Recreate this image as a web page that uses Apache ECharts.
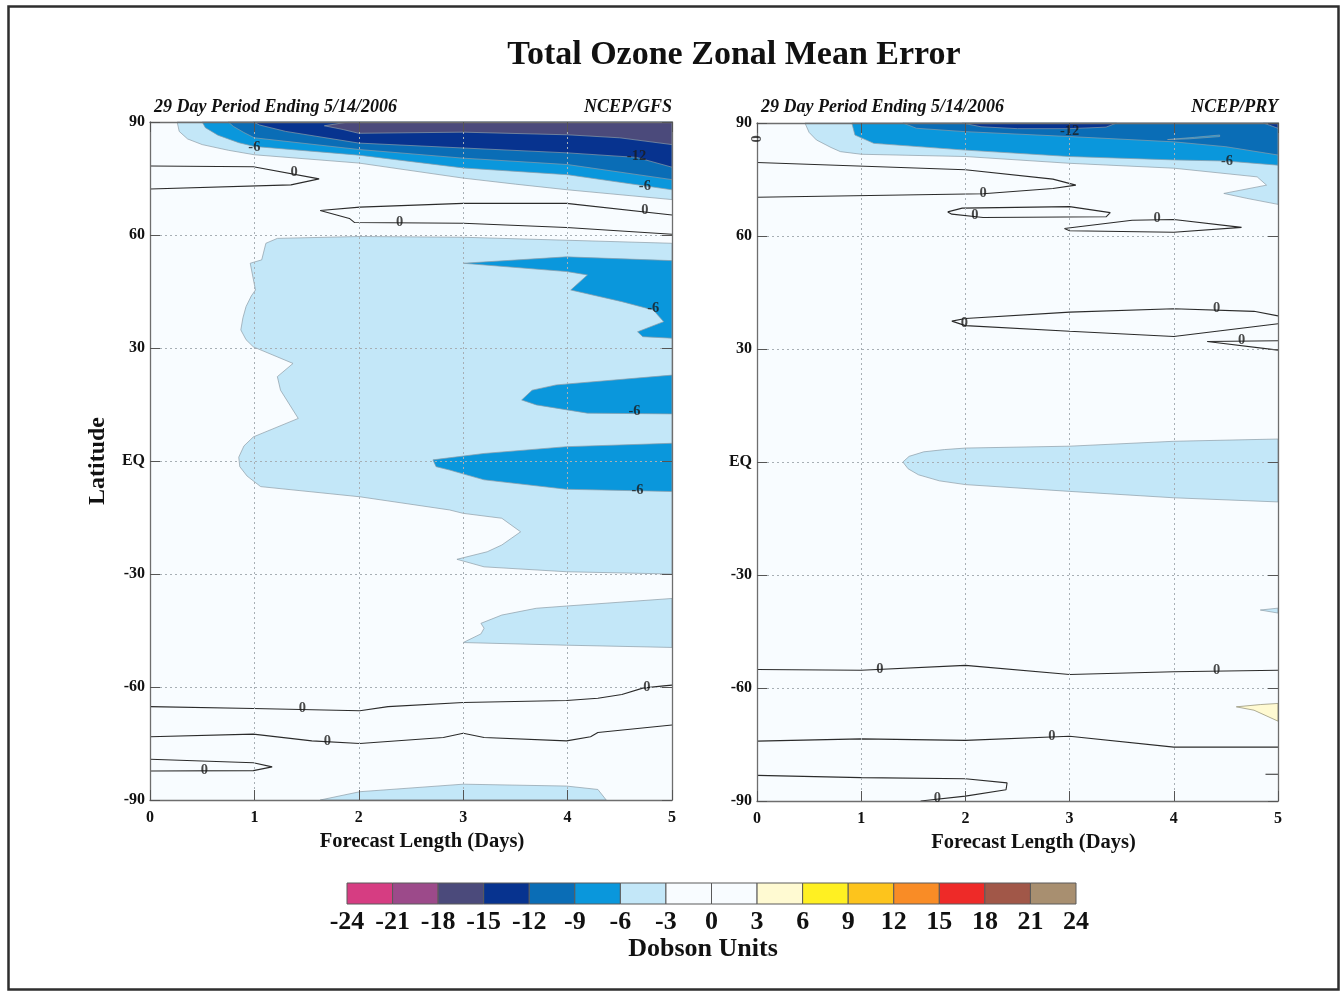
<!DOCTYPE html>
<html>
<head>
<meta charset="utf-8">
<script src="https://cdn.jsdelivr.net/npm/echarts@6/dist/echarts.min.js"></script>
<style>
html,body{margin:0;padding:0;background:#ffffff;}
#chart{width:1341px;height:993px;}
</style>
</head>
<body>
<div id="chart"></div>
<script>
// ---- axes ----
const dayTicks = [0, 1, 2, 3, 4, 5];
const latTicks = [-90, -60, -30, 0, 30, 60, 90];
const latTickNames = ['-90', '-60', '-30', 'EQ', '30', '60', '90'];

// ---- colour scale (Dobson Units) ----
const duBounds = [-24, -21, -18, -15, -12, -9, -6, -3, 0, 3, 6, 9, 12, 15, 18, 21, 24];
const duColors = ['#d63d82', '#9c4a8a', '#4b4a7b', '#07338f', '#0a6db6', '#0a97dc', '#c3e7f8', '#f8fcff',
                  '#f8fcff', '#fffad2', '#fff022', '#fdc41c', '#f98c26', '#ee2a28', '#a15748', '#a88f70'];

// ---- NCEP/GFS : filled regions [day, latitude] ----
const gfsNorthLe3 = [[0.26,90],[0.28,87.5],[0.36,85.5],[0.5,84.0],[0.75,82.5],[1.0,81.3],[2.0,79.1],[3.0,75.1],[3.5,73.5],[4.0,72.0],[5,69.4],[5,90]];
const gfsNorthLe6 = [[0.50,90],[0.53,88.5],[0.65,86.5],[0.85,84.5],[1.0,83.5],[2.0,81.2],[3.0,77.8],[4.0,76.0],[5,72.0],[5,90]];
const gfsNorthLe9 = [[0.75,90],[0.8,88.8],[0.9,87.2],[1.0,85.8],[2.0,82.7],[3.0,80.4],[4.0,78.7],[5,74.7],[5,90]];
const gfsNorthLe12 = [[0.99,90],[5,90],[5,78.0],[4.66,80.6],[4.0,81.8],[3.0,83.1],[2.0,84.4],[1.3,87.5],[1.05,89.2]];
const gfsNorthLe15 = [[1.67,89.0],[1.9,90],[5,90],[5,84.0],[4.5,85.8],[4.0,86.6],[3.0,87.3],[2.0,87.0],[1.85,88.0]];
const gfsMidLe3 = [[5,57.8],[3.0,59.4],[2.01,59.6],[1.22,59.1],[1.11,57.8],[1.07,53.4],[0.96,52.5],[1.01,45.4],
  [0.97,43.8],[0.92,41.0],[0.89,38.0],[0.87,34.8],[0.92,32.2],[0.99,30.3],[1.37,25.9],[1.22,22.4],[1.25,18.8],
  [1.42,11.3],[0.99,6.4],[0.9,4.0],[0.85,1.0],[0.86,-1.5],[0.93,-4.0],[1.06,-6.8],[2.01,-9.5],[2.87,-13.0],
  [3.0,-13.9],[3.37,-15.2],[3.55,-18.8],[3.37,-22.3],[3.23,-24.1],[2.94,-26.1],[3.2,-28.1],[3.99,-29.4],[5,-30.0]];
const gfsMidLe6a = [[3.0,52.5],[3.99,54.2],[5,53.2],[5,32.6],[4.72,33.0],[4.67,34.3],[4.92,37.0],[4.82,40.1],[4.52,42.3],[4.03,45.4],[4.19,49.4],[3.99,50.3]];
const gfsMidLe6b = [[3.56,16.2],[3.66,18.8],[3.89,20.2],[5,22.8],[5,12.5],[4.19,12.7],[3.70,14.9]];
const gfsMidLe6c = [[2.71,0.3],[3.2,2.0],[3.99,3.8],[5,4.7],[5,-8.1],[3.99,-7.5],[3.2,-5.0],[2.87,-2.4],[2.74,-1.5]];
const gfsSouthLe3a = [[3.0,-48.2],[3.17,-45.9],[3.2,-44.4],[3.17,-43.1],[3.37,-40.9],[3.7,-39.1],[3.99,-38.5],[5,-36.5],[5,-49.5],[3.99,-48.9]];
const gfsSouthLe3b = [[1.63,-90],[2.01,-87.8],[3.0,-85.8],[3.99,-86.3],[4.29,-87.2],[4.37,-90]];

// ---- NCEP/GFS : zero contours ----
const gfsZeroA = [[0,78.3],[0.99,78.1],[1.62,74.9],[1.35,73.3],[0,72.2]];
const gfsZeroB = [[5,65.3],[3.99,68.4],[3.0,68.4],[2.01,67.4],[1.63,66.5],[1.91,64.4],[1.96,63.3],[3.0,63.1],[3.99,62.0],[5,60.2]];
const gfsZeroC = [[0,-65.2],[0.99,-65.7],[2.01,-66.3],[2.28,-65.2],[3.0,-64.1],[3.99,-63.6],[4.29,-63.0],[4.52,-62.0],[4.72,-60.3],[4.92,-59.7],[5,-59.5]];
const gfsZeroD = [[0,-73.2],[0.99,-72.5],[1.55,-74.3],[2.01,-75.0],[2.81,-73.4],[3.0,-72.3],[3.2,-73.4],[3.99,-74.3],[4.22,-73.2],[4.29,-72.1],[5,-70.1]];
const gfsZeroE = [[0,-79.2],[0.99,-80.1],[1.17,-81.2],[0.99,-82.2],[0,-82.3]];

// ---- NCEP/GFS : contour labels [day, latitude, text] ----
const gfsLabels = [[1.0,83.4,'-6'],[4.66,81.0,'-12'],[4.74,73.0,'-6'],[4.74,66.6,'0'],[2.39,63.4,'0'],[1.38,76.7,'0'],
  [4.82,40.6,'-6'],[4.64,13.3,'-6'],[4.67,-7.7,'-6'],[1.46,-65.6,'0'],[4.76,-60.0,'0'],[1.70,-74.4,'0'],[0.52,-82.0,'0']];

// ---- NCEP/PRY : filled regions ----
const pryNorthLe3 = [[0.46,90],[0.50,87.5],[0.57,85.5],[0.71,83.5],[0.8,82.4],[1,81.7],[2,81.1],[3,79.3],[4,78.0],[4.80,75.7],[4.89,73.5],[4.48,71.3],[4.70,70.0],[5,68.4],[5,90]];
const pryNorthLe6 = [[0.91,90],[0.94,86.8],[1.12,84.6],[2,82.8],[3,81.1],[4,80.2],[4.5,79.9],[5,78.8],[5,90]];
const pryNorthLe9 = [[1.40,90],[1.53,88.6],[2,87.7],[3,86.4],[4,85.0],[4.5,83.7],[5,81.5],[5,90]];
const pryStreakLe6 = [[3.94,85.6],[4.2,86.2],[4.44,86.8],[4.44,86.4],[4.15,85.8]];
const pryNorthLe12a = [[1.97,90],[3.45,90],[3.35,88.9],[3.0,88.5],[2.5,88.5],[2.15,89.0]];
const pryNorthLe12b = [[4.86,90],[5,90],[5,88.6],[4.92,89.4]];
const pryEqLe3 = [[1.40,0],[1.46,1.5],[1.6,2.7],[1.8,3.3],[2,3.7],[3,4.2],[4,5.5],[5,6.1],[5,-10.6],[4,-9.5],[3,-7.8],[2,-6.0],[1.75,-5.0],[1.55,-3.4],[1.45,-1.8]];
const prySouthLe3 = [[4.83,-39.3],[5,-38.8],[5,-40.1]];
const prySouthGe3 = [[4.60,-65.0],[4.83,-64.4],[5,-64.1],[5,-68.8],[4.77,-65.9]];

// ---- NCEP/PRY : zero contours ----
const pryZeroF = [[0,79.5],[2.0,77.6],[2.84,75.1],[3.06,73.5],[2.84,72.6],[2.17,71.2],[0,70.3]];
const pryZeroG = [[1.83,66.4],[1.97,67.4],[3.0,67.8],[3.39,66.2],[3.35,65.1],[2.17,64.9],[1.87,65.8],[1.83,66.4]];
const pryZeroH = [[2.95,62.0],[3.60,64.2],[4.0,64.4],[4.65,62.3],[4.0,61.0],[3.0,61.4],[2.95,62.0]];
const pryZeroI = [[5,38.8],[4.77,40.0],[4.0,40.7],[3.0,39.8],[2.0,38.1],[1.87,37.4],[2.0,36.2],[3.0,34.7],[4.0,33.3],[5,36.7]];
const pryZeroJ = [[5,32.2],[4.32,32.0],[5,29.7]];
const pryZeroK = [[0,-55.1],[1.0,-55.3],[2.0,-54.0],[3.0,-56.4],[4.0,-55.7],[5,-55.3]];
const pryZeroL = [[0,-74.1],[1.0,-73.5],[2.0,-73.9],[3.0,-72.8],[4.0,-75.7],[5,-75.7]];
const pryZeroM = [[0,-83.2],[1.0,-83.8],[2.0,-84.1],[2.4,-85.2],[2.39,-87.0],[2.0,-88.7],[1.57,-90]];
const pryZeroN = [[4.88,-82.9],[5,-82.9]];

// ---- NCEP/PRY : contour labels ----
const pryLabels = [[3.0,87.9,'-12'],[4.51,79.9,'-6'],[2.17,71.4,'0'],[2.09,65.6,'0'],[3.84,64.8,'0'],[1.99,36.8,'0'],
  [4.41,40.8,'0'],[4.65,32.3,'0'],[1.18,-54.9,'0'],[4.41,-55.2,'0'],[2.83,-72.9,'0'],[1.73,-89.2,'0']];
const pryEdgeLabels = [[0,88.2,'0']];

// ---- panel assembly: [contour level, polygon] ----
const gfsRegions = [[-3,gfsNorthLe3],[-6,gfsNorthLe6],[-9,gfsNorthLe9],[-12,gfsNorthLe12],[-15,gfsNorthLe15],
  [-3,gfsMidLe3],[-6,gfsMidLe6a],[-6,gfsMidLe6b],[-6,gfsMidLe6c],[-3,gfsSouthLe3a],[-3,gfsSouthLe3b]];
const gfsZero = [gfsZeroA, gfsZeroB, gfsZeroC, gfsZeroD, gfsZeroE];
const pryRegions = [[-3,pryNorthLe3],[-6,pryNorthLe6],[-9,pryNorthLe9],[-6,pryStreakLe6],[-12,pryNorthLe12a],[-12,pryNorthLe12b],
  [-3,pryEqLe3],[-3,prySouthLe3],[3,prySouthGe3]];
const pryZero = [pryZeroF, pryZeroG, pryZeroH, pryZeroI, pryZeroJ, pryZeroK, pryZeroL, pryZeroM, pryZeroN];

const SERIF = '"Liberation Serif", "DejaVu Serif", serif';
const PLOT_BG = '#f8fcff';

// colour of the band just beyond a contour level (negative: below it, positive: above it)
function colorFor(level) {
  const lo = level < 0 ? level - 3 : level;
  return duColors[duBounds.indexOf(lo)];
}

function latName(v) {
  const i = latTicks.indexOf(v);
  return i >= 0 ? latTickNames[i] : '';
}

function panelAxes(g, nameShift) {
  const frame = {show: true, onZero: false, lineStyle: {color: '#6e6e6e', width: 1.3}};
  const tick = {show: true, inside: true, length: 10, lineStyle: {color: '#555', width: 1}};
  const dotted = {show: true, lineStyle: {color: '#a7afb5', width: 1, type: [2, 3]}};
  const x = [
    {type: 'value', gridIndex: g, min: 0, max: 5, interval: 1, position: 'bottom', z: 5,
     axisLine: frame, axisTick: tick, splitLine: dotted,
     axisLabel: {margin: 10, fontFamily: SERIF, fontWeight: 'bold', fontSize: 16, color: '#111',
                 formatter: v => dayTicks.indexOf(v) >= 0 ? String(v) : ''},
     name: 'Forecast Length (Days)', nameLocation: 'middle', nameGap: 22,
     nameTextStyle: {fontFamily: SERIF, fontWeight: 'bold', fontSize: 20.5, color: '#111',
                     padding: [0, 0, 0, nameShift * 2]}},
    {type: 'value', gridIndex: g, min: 0, max: 5, interval: 1, position: 'top', z: 5,
     axisLine: frame, axisTick: tick, axisLabel: {show: false}, splitLine: {show: false}}
  ];
  const y = [
    {type: 'value', gridIndex: g, min: -90, max: 90, interval: 30, position: 'left', z: 5,
     axisLine: frame, axisTick: tick, splitLine: dotted,
     axisLabel: {margin: 5, fontFamily: SERIF, fontWeight: 'bold', fontSize: 16, color: '#111', formatter: latName}},
    {type: 'value', gridIndex: g, min: -90, max: 90, interval: 30, position: 'right', z: 5,
     axisLine: frame, axisTick: tick, axisLabel: {show: false}, splitLine: {show: false}}
  ];
  return {x, y};
}

function regionSeries(regions, g) {
  return {
    type: 'custom', xAxisIndex: g * 2, yAxisIndex: g * 2, z: 1, silent: true, animation: false,
    data: regions.map((r, i) => [r[1][0][0], r[1][0][1], i]),
    encode: {x: 0, y: 1},
    renderItem(params, api) {
      const r = regions[api.value(2)];
      return {
        type: 'polygon', z2: api.value(2),
        shape: {points: r[1].map(p => api.coord(p))},
        style: {fill: colorFor(r[0]), stroke: r[0] > 0 ? '#8c8a70' : '#8d9ca6', lineWidth: 0.7}
      };
    }
  };
}

function zeroSeries(lines, g) {
  return lines.map(pts => ({
    type: 'line', xAxisIndex: g * 2, yAxisIndex: g * 2, z: 3, silent: true, animation: false,
    data: pts, symbol: 'none', lineStyle: {color: '#2b2b2b', width: 1.1}
  }));
}

function labelSeries(labels, g, extra) {
  return {
    type: 'scatter', xAxisIndex: g * 2, yAxisIndex: g * 2, z: 6, silent: true, animation: false, clip: false,
    data: labels, symbolSize: 1, itemStyle: {color: 'rgba(0,0,0,0)'},
    label: Object.assign({
      show: true, position: 'inside', formatter: p => p.value[2],
      fontFamily: SERIF, fontWeight: 'bold', fontSize: 14.5, color: '#1b1b1b'
    }, extra || {})
  };
}

const gfsAxes = panelAxes(0, 11);
const pryAxes = panelAxes(1, 16);

// colour bar (third grid)
const barX = {type: 'value', gridIndex: 2, min: -24, max: 24, interval: 3, position: 'bottom',
  axisLine: {show: false}, axisTick: {show: false}, splitLine: {show: false},
  axisLabel: {margin: 5, fontFamily: SERIF, fontWeight: 'bold', fontSize: 26, color: '#111'},
  name: 'Dobson Units', nameLocation: 'middle', nameGap: 27,
  nameTextStyle: {fontFamily: SERIF, fontWeight: 'bold', fontSize: 26, color: '#111', padding: [0, 17, 0, 0]}};
const barY = {type: 'value', gridIndex: 2, min: 0, max: 1, show: false};

const barSeries = {
  type: 'custom', xAxisIndex: 4, yAxisIndex: 4, silent: true, animation: false,
  data: duColors.map((c, i) => [duBounds[i], duBounds[i + 1], 0, 1, i]),
  encode: {x: [0, 1], y: [2, 3]},
  renderItem(params, api) {
    const a = api.coord([api.value(0), api.value(3)]);
    const b = api.coord([api.value(1), api.value(2)]);
    return {type: 'rect', shape: {x: a[0], y: a[1], width: b[0] - a[0], height: b[1] - a[1]},
            style: {fill: duColors[api.value(4)], stroke: '#5a5a5a', lineWidth: 1}};
  }
};

const subStyle = {fontFamily: SERIF, fontWeight: 'bold', fontStyle: 'italic', fontSize: 18, fill: '#111'};

const option = {
  backgroundColor: '#ffffff',
  animation: false,
  grid: [
    {left: 150, top: 122, width: 522, height: 678, show: true, backgroundColor: PLOT_BG, borderWidth: 0},
    {left: 757, top: 123, width: 521, height: 678, show: true, backgroundColor: PLOT_BG, borderWidth: 0},
    {left: 347, top: 883, width: 729, height: 21}
  ],
  xAxis: [...gfsAxes.x, ...pryAxes.x, barX],
  yAxis: [
    Object.assign({}, gfsAxes.y[0], {name: 'Latitude', nameLocation: 'middle', nameGap: 40, nameRotate: 90,
      nameTextStyle: {fontFamily: SERIF, fontWeight: 'bold', fontSize: 24, color: '#111'}}),
    gfsAxes.y[1], ...pryAxes.y, barY
  ],
  series: [
    regionSeries(gfsRegions, 0),
    ...zeroSeries(gfsZero, 0),
    labelSeries(gfsLabels, 0),
    regionSeries(pryRegions, 1),
    ...zeroSeries(pryZero, 1),
    labelSeries(pryLabels, 1),
    labelSeries(pryEdgeLabels, 1, {offset: [-9, 0], rotate: 90}),
    barSeries
  ],
  graphic: [
    {type: 'rect', silent: true, shape: {x: 8.5, y: 6.5, width: 1330, height: 983},
     style: {fill: 'none', stroke: '#2e2e2e', lineWidth: 2.5}},
    {type: 'text', silent: true, x: 734, y: 55,
     style: {text: 'Total Ozone Zonal Mean Error', fontFamily: SERIF, fontWeight: 'bold', fontSize: 34, fill: '#111',
             align: 'center', verticalAlign: 'middle'}},
    {type: 'text', silent: true, x: 154, y: 107,
     style: Object.assign({text: '29 Day Period Ending 5/14/2006', align: 'left', verticalAlign: 'middle'}, subStyle)},
    {type: 'text', silent: true, x: 672, y: 107,
     style: Object.assign({text: 'NCEP/GFS', align: 'right', verticalAlign: 'middle'}, subStyle)},
    {type: 'text', silent: true, x: 761, y: 107,
     style: Object.assign({text: '29 Day Period Ending 5/14/2006', align: 'left', verticalAlign: 'middle'}, subStyle)},
    {type: 'text', silent: true, x: 1278, y: 107,
     style: Object.assign({text: 'NCEP/PRY', align: 'right', verticalAlign: 'middle'}, subStyle)}
  ]
};

const chart = echarts.init(document.getElementById('chart'), null, {renderer: 'canvas'});
chart.setOption(option);
</script>
</body>
</html>
